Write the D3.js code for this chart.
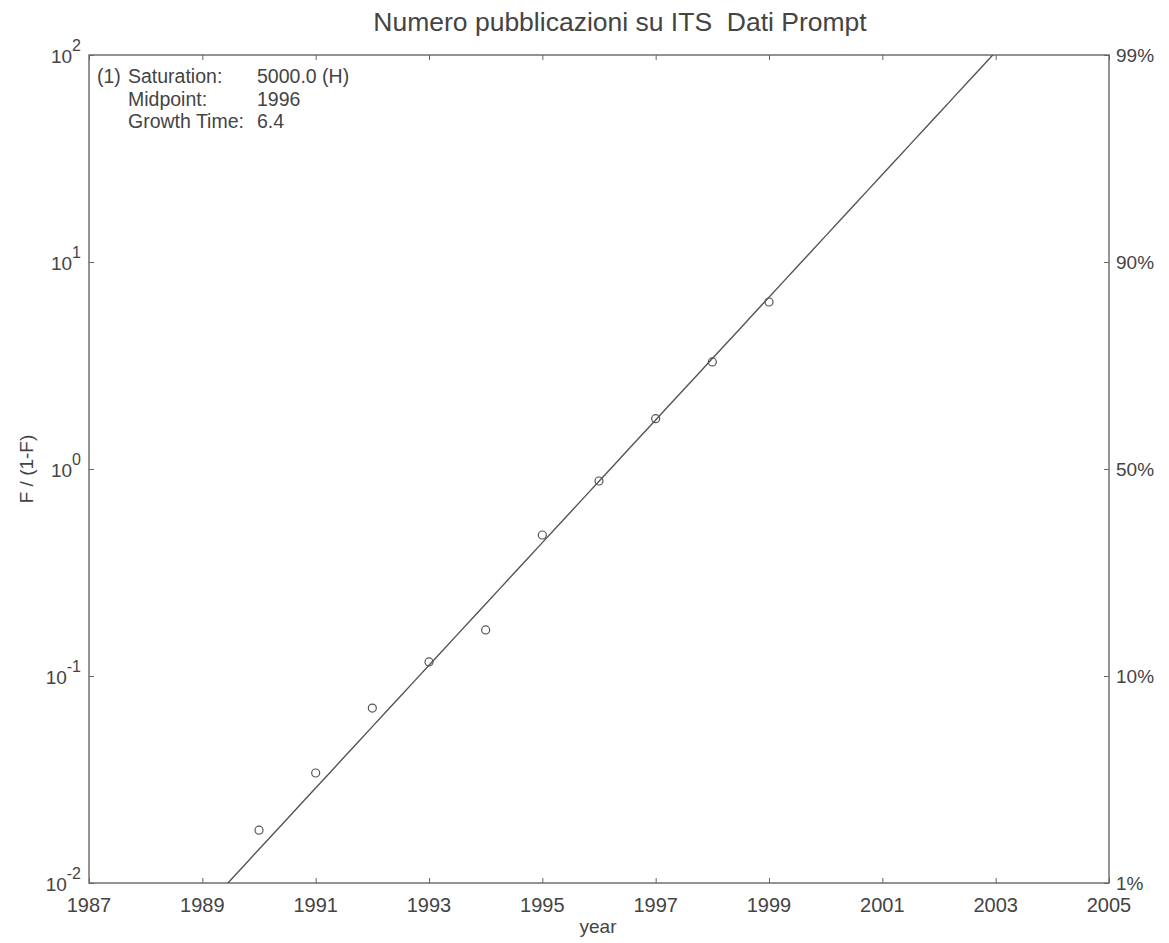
<!DOCTYPE html>
<html>
<head>
<meta charset="utf-8">
<script src="https://cdn.jsdelivr.net/npm/d3@7/dist/d3.min.js"></script>
<style>
  html, body { margin: 0; padding: 0; background: #fff; }
  svg { display: block; }
  text { font-family: "Liberation Sans", Arial, Helvetica, sans-serif; fill: #444; white-space: pre; }
</style>
</head>
<body>
<svg id="chart" width="1169" height="943"></svg>
<script>
// Observed data: F/(1-F) per year
const years = [1990, 1991, 1992, 1993, 1994, 1995, 1996, 1997, 1998, 1999];
const ratios = [0.018, 0.034, 0.070, 0.117, 0.167, 0.48, 0.875, 1.75, 3.29, 6.41];

// Logistic fit parameters
const fitSaturation = 5000.0;
const fitMidpoint = 1996.2;
const fitGrowthTime = 6.44;

// Axis ticks
const xTicks = [1987, 1989, 1991, 1993, 1995, 1997, 1999, 2001, 2003, 2005];
const yTickExps = [-2, -1, 0, 1, 2];
const rightTickLabels = ["1%", "10%", "50%", "90%", "99%"];

const svg = d3.select("#chart");
const plot = { left: 89, right: 1109, top: 55, bottom: 883 };
const ink = "#555";

const x = d3.scaleLinear().domain([1987, 2005]).range([plot.left, plot.right]);
const y = d3.scaleLog().domain([0.01, 100]).range([plot.bottom, plot.top]);

// Clip area for the fitted line
svg.append("defs").append("clipPath").attr("id", "plotClip")
  .append("rect").attr("x", plot.left).attr("y", plot.top)
  .attr("width", plot.right - plot.left).attr("height", plot.bottom - plot.top);

// Frame
svg.append("rect")
  .attr("x", plot.left).attr("y", plot.top)
  .attr("width", plot.right - plot.left).attr("height", plot.bottom - plot.top)
  .attr("fill", "none").attr("stroke", "#666").attr("stroke-width", 1.4);

// Axes with inward ticks
const tickLen = 5;
svg.append("g").attr("transform", `translate(0,${plot.bottom})`)
  .call(d3.axisTop(x).tickValues(xTicks).tickSize(tickLen).tickFormat(""))
  .call(g => g.select(".domain").remove())
  .call(g => g.selectAll("line").attr("stroke", "#666"));
svg.append("g").attr("transform", `translate(0,${plot.top})`)
  .call(d3.axisBottom(x).tickValues(xTicks).tickSize(tickLen).tickFormat(""))
  .call(g => g.select(".domain").remove())
  .call(g => g.selectAll("line").attr("stroke", "#666"));
const yTickVals = yTickExps.map(e => Math.pow(10, e));
svg.append("g").attr("transform", `translate(${plot.left},0)`)
  .call(d3.axisRight(y).tickValues(yTickVals).tickSize(tickLen).tickFormat(""))
  .call(g => g.select(".domain").remove())
  .call(g => g.selectAll("line").attr("stroke", "#666"));
svg.append("g").attr("transform", `translate(${plot.right},0)`)
  .call(d3.axisLeft(y).tickValues(yTickVals).tickSize(tickLen).tickFormat(""))
  .call(g => g.select(".domain").remove())
  .call(g => g.selectAll("line").attr("stroke", "#666"));

// X tick labels
svg.append("g").selectAll("text").data(xTicks).join("text")
  .attr("x", d => x(d)).attr("y", 912)
  .attr("text-anchor", "middle").attr("font-size", 20)
  .text(d => d);

// Left Y tick labels as powers of ten
const yl = svg.append("g").selectAll("text").data(yTickExps).join("text")
  .attr("x", 81).attr("y", d => y(Math.pow(10, d)) + 8)
  .attr("text-anchor", "end").attr("font-size", 19);
yl.append("tspan").text("10");
yl.append("tspan").attr("dy", -12).attr("font-size", 16).text(d => d);

// Right Y tick labels
svg.append("g").selectAll("text").data(yTickExps).join("text")
  .attr("x", 1116).attr("y", d => y(Math.pow(10, d)) + 7)
  .attr("font-size", 19)
  .text((d, i) => rightTickLabels[i]);

// Fitted logistic line in Fisher-Pry form
const alpha = Math.log(81) / fitGrowthTime;
const fit = t => Math.exp(alpha * (t - fitMidpoint));
const fitYears = d3.range(1987, 2005.01, 0.25);
svg.append("path")
  .datum(fitYears)
  .attr("clip-path", "url(#plotClip)")
  .attr("fill", "none").attr("stroke", ink).attr("stroke-width", 1.4)
  .attr("d", d3.line().x(t => x(t)).y(t => y(fit(t))));

// Data points
svg.append("g").selectAll("circle").data(years).join("circle")
  .attr("cx", d => x(d)).attr("cy", (d, i) => y(ratios[i]))
  .attr("r", 4).attr("fill", "none").attr("stroke", ink).attr("stroke-width", 1.2);

// Fit summary
const info = svg.append("g").attr("font-size", 19.5);
info.append("text").attr("x", 97).attr("y", 83).text("(1)");
const rows = [
  ["Saturation:", d3.format(".1f")(fitSaturation) + " (H)"],
  ["Midpoint:", d3.format(".0f")(fitMidpoint)],
  ["Growth Time:", d3.format(".1f")(fitGrowthTime)]
];
rows.forEach((r, i) => {
  info.append("text").attr("x", 128).attr("y", 83 + i * 22.5).text(r[0]);
  info.append("text").attr("x", 257).attr("y", 83 + i * 22.5).text(r[1]);
});

// Title and axis labels
svg.append("text").attr("x", 620).attr("y", 31)
  .attr("text-anchor", "middle").attr("font-size", 26.5)
  .text("Numero pubblicazioni su ITS  Dati Prompt");
svg.append("text").attr("x", 598).attr("y", 933)
  .attr("text-anchor", "middle").attr("font-size", 19).text("year");
svg.append("text")
  .attr("transform", `translate(33,${(plot.top + plot.bottom) / 2}) rotate(-90)`)
  .attr("text-anchor", "middle").attr("font-size", 19).text("F / (1-F)");
</script>
</body>
</html>
